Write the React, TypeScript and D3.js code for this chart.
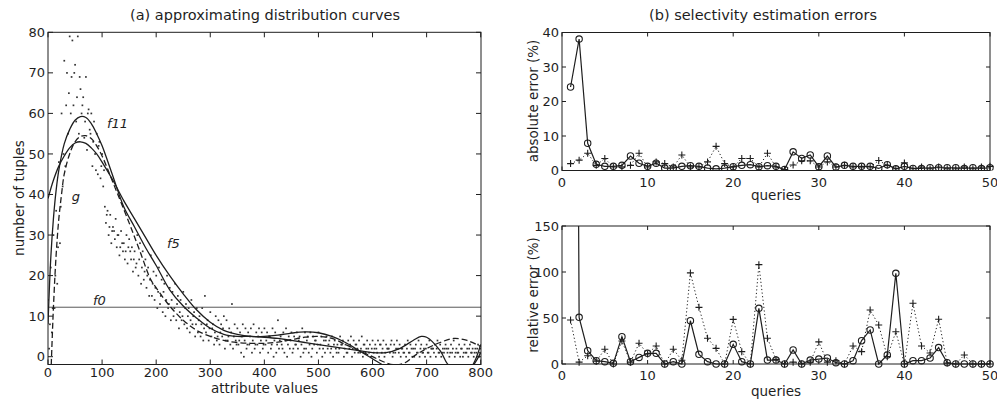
import React from 'react';
import * as d3 from 'd3';

// ---------- Panel (a): scatter data (x = 0..800 step 5) ----------
const scatterStep = 5;
const scatterA = [
  14,22,30,36,48,60,73,70,79,78,72,79,66,64,69,61,60,58,55,53,
  50,37,36,35,32,34,30,31,28,30,29,27,26,30,28,26,24,22,25,21,
  20,22,19,18,20,17,16,18,15,14,16,13,12,14,11,12,10,12,15,9,
  11,8,10,9,8,10,9,7,13,8,7,6,8,7,6,7,8,6,7,6,
  7,6,5,7,6,9,5,6,7,5,6,5,6,5,7,6,5,6,5,4,
  6,5,4,5,4,5,4,3,5,4,3,4,5,4,3,4,5,3,4,3,
  4,3,4,3,4,3,2,4,3,4,3,2,3,4,3,2,3,4,3,2,
  3,4,2,3,4,3,2,3,2,3,4,2,3,2,3,2,3,2,2,3,2,
];
const scatterB = [
  2,6,12,18,28,42,47,55,60,62,58,55,60,54,51,56,47,50,45,44,
  42,33,30,28,31,27,25,28,24,23,26,21,22,20,18,19,17,15,15,14,
  12,13,11,10,12,9,10,9,7,9,8,7,6,8,5,6,5,4,6,4,
  5,3,4,3,5,2,4,3,2,4,3,1,0,2,3,1,2,3,1,2,
  3,1,2,0,1,2,3,1,0,2,1,3,2,0,1,2,1,0,3,1,
  2,0,1,2,1,0,2,1,3,0,1,2,0,1,2,1,0,1,2,0,
  1,2,0,1,0,2,1,0,1,2,0,1,0,1,2,0,1,0,1,0,
  1,0,2,0,1,0,1,2,0,1,0,1,0,0,1,0,1,0,1,0,0,
];
const scatterC = [
  8,12,20,27,37,50,62,65,69,70,64,69,62,58,60,55,53,46,52,47,
  46,35,32,31,29,30,27,26,26,27,24,24,23,24,22,21,20,19,18,17,
  16,15,16,14,13,14,12,13,11,10,12,10,9,10,8,9,8,7,8,7,
  7,6,5,6,7,4,5,6,5,3,4,5,4,3,5,4,3,5,4,3,
  4,5,3,4,3,4,2,4,3,4,2,3,4,3,2,4,3,2,4,3,
  3,2,4,3,2,3,1,2,3,2,1,3,2,3,1,2,3,2,1,2,
  2,1,3,2,1,2,3,1,2,1,2,1,2,1,0,2,1,2,1,2,
  1,2,1,2,1,1,2,1,1,2,1,1,2,1,1,2,1,1,2,1,1,
];

// ---------- Panel (a): approximating curves ----------
const f11X = [0,5,10,15,20,30,40,50,60,70,80,90,100,120,140,160,180,200,225,250,275,300,325,350,375,400,425,450,475,500,525,550,575,600,625,650,675,690,700,725,740,760,780,800];
const f11Y = [8,24,34,41,46,52.5,56,58.3,59.2,59,57.5,55,52,44.5,37,32,27,22.5,16.5,12.5,9.5,7,5.5,5,5,4.8,4.5,4,3.5,3,2.5,2,1.5,1,1,2,4,5,4.8,1.5,-2,-3.5,-3,1];
const f5X = [0,10,20,30,40,50,60,70,80,90,100,120,140,160,180,200,225,250,275,300,325,350,375,400,425,450,475,500,525,550,575,600,625,650,700,750,780,800];
const f5Y = [39,43.5,47,49.5,51.5,52.7,53,52.6,51.5,50,48,43.5,38.5,34,29.5,25,20,15.5,11.5,8.5,6.5,5.5,5,5,5.3,5.8,6.1,5.9,5,3.5,1.5,-0.5,-2.5,-4,-5,-4.5,-3,3];
const gX = [6,10,15,20,25,30,40,50,60,70,80,90,100,120,150,170,190,200,225,250,275,300,325,350,375,400,425,450,475,500,525,550,575,600,625,640,660,675,700,725,750,775,800];
const gY = [-2,12,25,34,40,45,50,53,54.3,54.5,53.8,52,49.5,43,33,26,19,17,12.5,9,6.5,5,4,3.5,3.3,3.3,3.6,4.2,4.8,5,4.5,3,1.5,0,-1.5,-2,-1.5,0,2,3.5,4.5,4,2.5];
const f0Value = 12.2;

const aXTicks = [0,100,200,300,400,500,600,700,800];
const aYTicks = [0,10,20,30,40,50,60,70,80];

// ---------- Panel (b): selectivity errors, queries 1..50 ----------
const absCircle = [24.2,38.1,7.9,1.8,1.2,1.2,1.5,4.2,2.1,1.2, 2.1,0.7,0.7,1.2,1.4,1.2,0.7,0.5,0.7,1.1, 1.5,1.7,1.1,1.4,1.2,0.3,5.4,3.5,4.5,1.1, 4.2,1,1.5,1.2,1.2,1.2,0.6,1.7,0.5,1.2, 0.6,0.6,0.8,0.8,0.8,0.8,0.6,0.8,0.6,0.8];
const absPlus = [2,3,5,1.5,3.5,1,1,1.5,5,1, 2.5,2,1,4.5,1,1,2.5,7,2,1, 3.5,3.5,1,5,1,0.3,1.6,2.8,2.8,1, 2.5,1,1.5,1,1,1,2.9,1.5,0.5,2.2, 0.5,1,0.5,1,0.5,0.5,1,0.5,1,1.2];
const relCircle = [1800,50.7,14.5,3.6,2.5,0.7,29.7,2.5,7.2,11.6, 11.6,0,2.5,0,47,10.5,2.5,0,0,21.4, 2.5,0,60.5,4.3,4.3,0,15.2,0,4.3,5.4, 6.5,1.4,0,3.6,25.4,37,0,9.8,98.6,0, 3.6,3.6,6.5,17.8,1.4,0,0,0,0,0];
const relPlus = [47.8,2,9,3,16,0,25,2,22.5,11, 19.6,0,16,4,99,61.6,28,17,0,48.5, 13.4,0,108,28,5,0,2,0,2,24, 2,3.6,0,19.6,13.4,58.7,42.4,8,35,0, 66,19.6,12,48.6,1,0,9.8,0,0,0];

const bXTicks = [0,10,20,30,40,50];
const absYTicks = [0,10,20,30,40];
const relYTicks = [0,50,100,150];

const INK = '#1e1e1e';
const FONT = 'DejaVu Sans, Verdana, sans-serif';

type Frame = { x0: number; x1: number; y0: number; y1: number };

function Axes({ fr, xs, ys, xTicks, yTicks, tickLen, xLabelY }: any) {
  return (
    <g>
      <rect x={fr.x0} y={fr.y0} width={fr.x1 - fr.x0} height={fr.y1 - fr.y0} fill="none" stroke={INK} strokeWidth={1} />
      {xTicks.map((t: number) => (
        <g key={'xt' + t}>
          <line x1={xs(t)} x2={xs(t)} y1={fr.y1} y2={fr.y1 - tickLen} stroke={INK} />
          <line x1={xs(t)} x2={xs(t)} y1={fr.y0} y2={fr.y0 + tickLen} stroke={INK} />
          <text x={xs(t)} y={xLabelY} textAnchor="middle" fontSize={13} fill={INK}>{t}</text>
        </g>
      ))}
      {yTicks.map((t: number) => (
        <g key={'yt' + t}>
          <line x1={fr.x0} x2={fr.x0 + tickLen} y1={ys(t)} y2={ys(t)} stroke={INK} />
          <line x1={fr.x1} x2={fr.x1 - tickLen} y1={ys(t)} y2={ys(t)} stroke={INK} />
          <text x={fr.x0 - 3} y={ys(t) + 4.6} textAnchor="end" fontSize={13} fill={INK}>{t}</text>
        </g>
      ))}
    </g>
  );
}

export default function App() {
  // ----- panel (a) -----
  const fa: Frame = { x0: 48, x1: 481, y0: 32.3, y1: 364.5 };
  const ax = d3.scaleLinear().domain([0, 800]).range([48, 480.7]);
  const ay = d3.scaleLinear().domain([-2, 80]).range([364.8, 32.3]);
  const curveLine = (X: number[], Y: number[]) =>
    d3.line<number>().x((_, i) => ax(X[i])).y((d) => ay(d)).curve(d3.curveCatmullRom.alpha(0.5))(Y) || '';

  const dots: { x: number; y: number }[] = [];
  scatterA.forEach((v, i) => dots.push({ x: i * scatterStep, y: v }));
  scatterB.forEach((v, i) => dots.push({ x: i * scatterStep + 2, y: v }));
  scatterC.forEach((v, i) => dots.push({ x: i * scatterStep + 3.5, y: v }));

  // ----- panel (b) -----
  const queries = d3.range(1, 51);
  const bx = d3.scaleLinear().domain([0, 50]).range([562, 990]);
  const fTop: Frame = { x0: 562, x1: 990, y0: 32.5, y1: 170.5 };
  const yTop = d3.scaleLinear().domain([0, 40]).range([170.5, 32.5]);
  const fBot: Frame = { x0: 562, x1: 990, y0: 226, y1: 364 };
  const yBot = d3.scaleLinear().domain([0, 150]).range([364, 226]);

  const seriesPath = (vals: number[], ys: d3.ScaleLinear<number, number>) =>
    d3.line<number>().x((_, i) => bx(queries[i])).y((d) => ys(d))(vals) || '';

  const circles = (vals: number[], ys: d3.ScaleLinear<number, number>, key: string) =>
    vals.map((v, i) => (
      <circle key={key + i} cx={bx(queries[i])} cy={ys(v)} r={3.2} fill="none" stroke={INK} strokeWidth={1.1} />
    ));
  const pluses = (vals: number[], ys: d3.ScaleLinear<number, number>, key: string) =>
    vals.map((v, i) => {
      const cx = bx(queries[i]);
      const cy = ys(v);
      return (
        <path key={key + i} d={`M${cx - 3.5},${cy}H${cx + 3.5}M${cx},${cy - 3.5}V${cy + 3.5}`} stroke={INK} strokeWidth={1.1} />
      );
    });

  return (
    <svg width={997} height={402} style={{ position: 'absolute', left: 0, top: 0, background: '#fff' }} fontFamily={FONT}>
      <defs>
        <clipPath id="clipA"><rect x={fa.x0} y={fa.y0} width={fa.x1 - fa.x0} height={fa.y1 - fa.y0} /></clipPath>
        <clipPath id="clipT"><rect x={fTop.x0} y={fTop.y0 - 4} width={fTop.x1 - fTop.x0 + 4} height={fTop.y1 - fTop.y0 + 4} /></clipPath>
        <clipPath id="clipB"><rect x={fBot.x0} y={fBot.y0} width={fBot.x1 - fBot.x0 + 4} height={fBot.y1 - fBot.y0 + 4} /></clipPath>
      </defs>
      <rect x={0} y={0} width={997} height={402} fill="#fff" />

      {/* ===== Panel (a) ===== */}
      <text x={265} y={20} textAnchor="middle" fontSize={14.5} fill={INK}>(a) approximating distribution curves</text>
      <g clipPath="url(#clipA)">
        {dots.map((d, i) => (
          <rect key={'d' + i} x={ax(d.x) - 0.8} y={ay(d.y) - 0.8} width={1.7} height={1.7} fill="#333" />
        ))}
        <line x1={fa.x0} x2={fa.x1} y1={ay(f0Value)} y2={ay(f0Value)} stroke="#444" strokeWidth={0.9} />
        <path d={curveLine(f11X, f11Y)} fill="none" stroke={INK} strokeWidth={1.3} />
        <path d={curveLine(f5X, f5Y)} fill="none" stroke={INK} strokeWidth={1.3} />
        <path d={curveLine(gX, gY)} fill="none" stroke={INK} strokeWidth={1.3} strokeDasharray="6,3" />
      </g>
      <Axes fr={fa} xs={ax} ys={ay} xTicks={aXTicks} yTicks={aYTicks} tickLen={5} xLabelY={377} />
      <text x={264.5} y={393} textAnchor="middle" fontSize={13.5} fill={INK}>attribute values</text>
      <text transform="translate(24,198) rotate(-90)" textAnchor="middle" fontSize={13.5} fill={INK}>number of tuples</text>
      <text x={ax(109)} y={ay(56.5)} fontSize={13} fontStyle="italic" fill={INK}>f11</text>
      <text x={ax(220)} y={ay(26.9)} fontSize={13} fontStyle="italic" fill={INK}>f5</text>
      <text x={ax(44)} y={ay(38.5)} fontSize={13} fontStyle="italic" fill={INK}>g</text>
      <text x={ax(83)} y={ay(f0Value) - 2} fontSize={13} fontStyle="italic" fill={INK}>f0</text>

      {/* ===== Panel (b) ===== */}
      <text x={763} y={20} textAnchor="middle" fontSize={14.5} fill={INK}>(b) selectivity estimation errors</text>

      {/* top: absolute error */}
      <g clipPath="url(#clipT)">
        <path d={seriesPath(absPlus, yTop)} fill="none" stroke={INK} strokeWidth={1} strokeDasharray="1.2,2.4" />
        <path d={seriesPath(absCircle, yTop)} fill="none" stroke={INK} strokeWidth={1.2} />
        {pluses(absPlus, yTop, 'ap')}
        {circles(absCircle, yTop, 'ac')}
      </g>
      <Axes fr={fTop} xs={bx} ys={yTop} xTicks={bXTicks} yTicks={absYTicks} tickLen={4} xLabelY={186.5} />
      <text x={776} y={199.5} textAnchor="middle" fontSize={13.5} fill={INK}>queries</text>
      <text transform="translate(538,101) rotate(-90)" textAnchor="middle" fontSize={13.5} fill={INK}>absolute error (%)</text>

      {/* bottom: relative error */}
      <g clipPath="url(#clipB)">
        <path d={seriesPath(relPlus, yBot)} fill="none" stroke={INK} strokeWidth={1} strokeDasharray="1.2,2.4" />
        <path d={seriesPath(relCircle, yBot)} fill="none" stroke={INK} strokeWidth={1.2} />
        {pluses(relPlus, yBot, 'rp')}
        {circles(relCircle, yBot, 'rc')}
      </g>
      <Axes fr={fBot} xs={bx} ys={yBot} xTicks={bXTicks} yTicks={relYTicks} tickLen={4} xLabelY={379.5} />
      <text x={776} y={395.5} textAnchor="middle" fontSize={13.5} fill={INK}>queries</text>
      <text transform="translate(538,295) rotate(-90)" textAnchor="middle" fontSize={13.5} fill={INK}>relative error (%)</text>
    </svg>
  );
}
